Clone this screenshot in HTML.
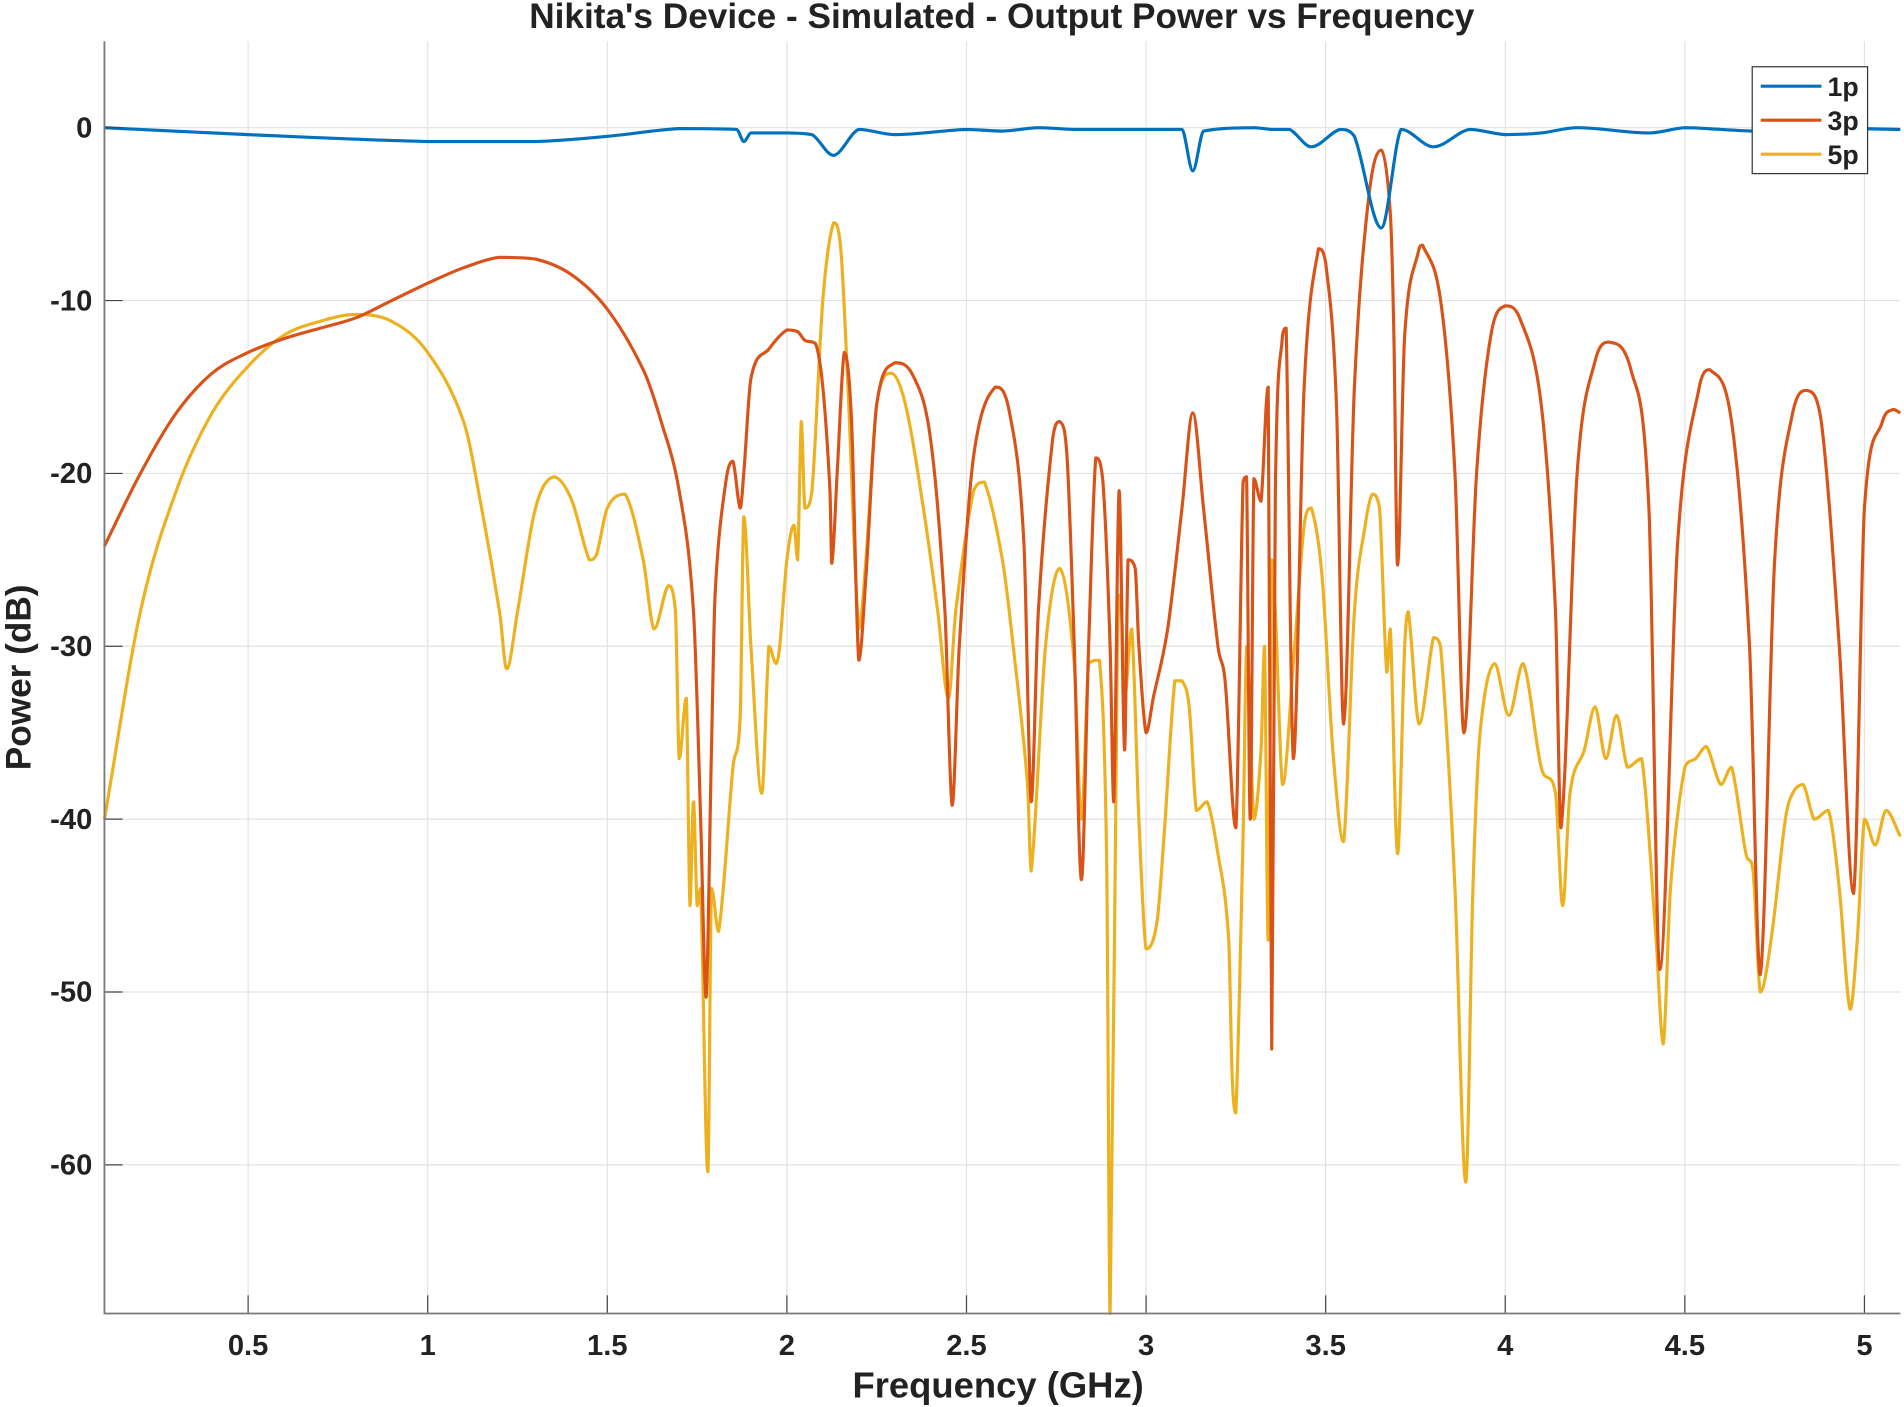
<!DOCTYPE html>
<html><head><meta charset="utf-8"><style>
html,body{margin:0;padding:0;background:#fff;}
svg{display:block;font-family:"Liberation Sans",Arial,sans-serif;}
</style></head><body>
<svg id="chart" width="1904" height="1407" viewBox="0 0 1568 1159" preserveAspectRatio="none" xmlns="http://www.w3.org/2000/svg">
<g id="grid"></g>
<g id="series"></g>
<g id="axes"></g>
<text x="825" y="23" text-anchor="middle" font-size="29" font-weight="bold" fill="#222">Nikita's Device - Simulated - Output Power vs Frequency</text>
<text x="822" y="1151" text-anchor="middle" font-size="30" font-weight="bold" fill="#222">Frequency (GHz)</text>
<text transform="translate(25,558) rotate(-90)" text-anchor="middle" font-size="29" font-weight="bold" fill="#222">Power (dB)</text>
<g id="legend"></g>
</svg>
<script>
const xTicks=[0.5,1,1.5,2,2.5,3,3.5,4,4.5,5];
const xTickLabels=["0.5","1","1.5","2","2.5","3","3.5","4","4.5","5"];
const yTicks=[0,-10,-20,-30,-40,-50,-60];
const yTickLabels=["0","-10","-20","-30","-40","-50","-60"];
const seriesNames=["1p","3p","5p"];
const f1=[0.1,0.5,1.0,1.3,1.5,1.7,1.86,1.88,1.9,2.0,2.07,2.13,2.2,2.3,2.5,2.6,2.7,2.8,2.9,3.1,3.13,3.16,3.3,3.35,3.4,3.46,3.54,3.58,3.655,3.71,3.8,3.9,4.0,4.1,4.2,4.4,4.5,4.6,4.7,4.8,5.1];
const p1=[0,-0.4,-0.8,-0.8,-0.5,-0.05,-0.1,-0.8,-0.3,-0.3,-0.4,-1.6,-0.1,-0.4,-0.1,-0.2,0,-0.1,-0.1,-0.1,-2.5,-0.2,0,-0.1,-0.1,-1.1,-0.1,-0.5,-5.8,-0.1,-1.1,-0.1,-0.4,-0.3,0,-0.3,0,-0.1,-0.2,0,-0.1];
const f3=[0.1,0.2,0.3,0.4,0.5,0.6,0.7,0.8,0.9,1.0,1.1,1.2,1.3,1.4,1.5,1.6,1.65,1.7,1.74,1.76,1.775,1.79,1.8,1.83,1.85,1.87,1.88,1.9,1.95,2.0,2.03,2.05,2.08,2.1,2.12,2.125,2.14,2.16,2.18,2.2,2.22,2.25,2.3,2.35,2.4,2.44,2.46,2.48,2.52,2.58,2.62,2.66,2.68,2.7,2.74,2.76,2.78,2.8,2.82,2.84,2.86,2.88,2.9,2.91,2.925,2.94,2.95,2.97,2.98,3.0,3.02,3.06,3.1,3.13,3.16,3.2,3.22,3.25,3.27,3.28,3.29,3.3,3.32,3.34,3.35,3.36,3.38,3.39,3.41,3.44,3.48,3.5,3.53,3.55,3.58,3.62,3.655,3.68,3.69,3.7,3.72,3.76,3.77,3.82,3.86,3.885,3.92,3.96,4.0,4.04,4.1,4.14,4.155,4.2,4.25,4.29,4.35,4.4,4.43,4.48,4.54,4.57,4.63,4.68,4.71,4.75,4.8,4.84,4.88,4.93,4.97,5.0,5.05,5.08,5.1];
const p3=[-24.2,-20,-16.5,-14.2,-13,-12.2,-11.6,-11,-10,-9,-8.1,-7.5,-7.6,-8.5,-10.5,-14,-17,-21,-28,-40,-50.3,-36,-27,-20.5,-19.3,-22,-20,-14.5,-12.8,-11.7,-11.8,-12.3,-12.5,-15,-21,-25.2,-20,-13,-17,-30.8,-26,-16,-13.6,-14.3,-18,-28,-39.2,-30,-19,-15,-16.5,-24,-39,-28,-18,-17,-19,-30,-43.5,-30,-19.1,-20.5,-30,-39,-21,-36,-25,-25.5,-30,-35,-33,-29,-22,-16.5,-22,-30,-32,-40.5,-20.5,-20.2,-40,-20.3,-21.6,-15,-53.3,-21,-12,-11.6,-36.5,-15,-7,-7.8,-16,-34.5,-15,-4,-1.3,-5,-12,-25.3,-12,-7,-6.8,-10,-20,-35,-20,-12,-10.3,-11,-16,-28,-40.5,-20,-13.5,-12.4,-14,-22,-48.7,-24,-15,-14,-17,-30,-49,-25,-16.5,-15.2,-17,-30,-44.3,-22,-17,-16.3,-16.5];
const f5=[0.1,0.2,0.3,0.4,0.5,0.6,0.7,0.8,0.9,1.0,1.1,1.15,1.2,1.22,1.25,1.3,1.35,1.4,1.45,1.47,1.5,1.55,1.6,1.63,1.67,1.69,1.7,1.72,1.73,1.74,1.75,1.76,1.78,1.79,1.81,1.85,1.87,1.88,1.9,1.93,1.95,1.97,1.98,2.0,2.02,2.03,2.04,2.05,2.07,2.1,2.13,2.15,2.17,2.2,2.22,2.25,2.29,2.33,2.38,2.42,2.45,2.47,2.52,2.55,2.6,2.63,2.67,2.68,2.72,2.76,2.8,2.82,2.84,2.87,2.89,2.9,2.92,2.93,2.94,2.96,2.98,3.0,3.03,3.05,3.08,3.1,3.12,3.14,3.17,3.2,3.23,3.24,3.25,3.27,3.28,3.3,3.32,3.33,3.34,3.35,3.36,3.38,3.41,3.44,3.46,3.49,3.52,3.55,3.58,3.61,3.63,3.65,3.67,3.68,3.7,3.72,3.73,3.76,3.8,3.82,3.86,3.89,3.91,3.93,3.97,4.01,4.05,4.1,4.14,4.16,4.18,4.22,4.25,4.28,4.31,4.34,4.38,4.42,4.44,4.46,4.5,4.53,4.56,4.6,4.63,4.67,4.69,4.71,4.74,4.78,4.8,4.83,4.86,4.9,4.93,4.96,4.98,5.0,5.03,5.06,5.1];
const p5=[-40,-28,-21,-16.5,-13.8,-12,-11.2,-10.8,-11.2,-13,-17,-22,-28,-31.3,-28,-22,-20.2,-21.5,-25,-24.7,-22,-21.2,-25,-29,-26.5,-28,-36.5,-33,-45,-39,-45,-44,-60.4,-44,-46.5,-37,-34,-22.5,-30,-38.5,-30,-31,-30,-25,-23,-25,-17,-22,-21,-10,-5.5,-7,-15,-29,-25,-16,-14.2,-16,-22,-28,-33,-28,-21,-20.5,-25,-30,-38,-43,-30,-25.5,-31,-40,-31,-30.8,-42,-68.6,-30,-27,-33,-29,-40,-47.5,-46,-41,-32,-32,-33.5,-39.5,-39,-42,-47,-55,-57,-41,-30,-40,-36,-30,-47,-25,-28,-38,-31,-23,-22,-26,-36,-41.3,-28,-23,-21.2,-22,-31.5,-29,-42,-30,-28,-34.5,-29.5,-30,-44,-61,-44,-35,-31,-34,-31,-37,-38.5,-45,-38.5,-36,-33.5,-36.5,-34,-37,-36.5,-47,-53,-44,-37,-36.5,-35.8,-38,-37,-42,-43,-50,-47,-40,-38.5,-38,-40,-39.5,-44,-51,-47,-40,-41.5,-39.5,-41];

const X0=86,X1=1565,Y0=34,Y1=1082,xmin=0.1,xmax=5.1,ymin=-68.6,ymax=5;
const sx=v=>X0+(v-xmin)/(xmax-xmin)*(X1-X0);
const sy=v=>Y0+(ymax-v)/(ymax-ymin)*(Y1-Y0);
const NS="http://www.w3.org/2000/svg";
function mk(tag,parent){const e=document.createElementNS(NS,tag);document.getElementById(parent).appendChild(e);return e;}
function smoothPath(pts){
 let d=`M${pts[0][0].toFixed(1)},${pts[0][1].toFixed(1)}`;
 const t=0.35;
 for(let i=0;i<pts.length-1;i++){
  const p0=pts[Math.max(i-1,0)],p1=pts[i],p2=pts[i+1],p3=pts[Math.min(i+2,pts.length-1)];
  const dx=p2[0]-p1[0];
  let m1=(p2[1]-p0[1])/Math.max(p2[0]-p0[0],0.01), m2=(p3[1]-p1[1])/Math.max(p3[0]-p1[0],0.01);
  const s=(p2[1]-p1[1])/Math.max(dx,0.01);
  if(m1*s<=0) m1=0; if(m2*s<=0) m2=0;
  if(Math.abs(m1)>3*Math.abs(s)) m1=3*s; if(Math.abs(m2)>3*Math.abs(s)) m2=3*s;
  const c1=[p1[0]+dx/3,p1[1]+m1*dx/3],c2=[p2[0]-dx/3,p2[1]-m2*dx/3];
  d+=`C${c1[0].toFixed(1)},${c1[1].toFixed(1)} ${c2[0].toFixed(1)},${c2[1].toFixed(1)} ${p2[0].toFixed(1)},${p2[1].toFixed(1)}`;
 }
 return d;
}
xTicks.forEach((t,i)=>{
 const g=mk('line','grid');
 
 
 g.setAttribute('x1',sx(t));g.setAttribute('x2',sx(t));g.setAttribute('y1',Y0);g.setAttribute('y2',Y1);g.setAttribute('stroke','#e3e3e3');g.setAttribute('stroke-width','1');
 const tk=mk('line','axes');
 
 
 tk.setAttribute('x1',sx(t));tk.setAttribute('x2',sx(t));tk.setAttribute('y1',Y1);tk.setAttribute('y2',Y1-15);tk.setAttribute('stroke','#444');
 const l=mk('text','axes');
 
 
 l.setAttribute('x',sx(t));l.setAttribute('y',Y1+34);l.setAttribute('text-anchor','middle');l.setAttribute('font-size','24');l.setAttribute('font-weight','bold');l.setAttribute('fill','#222');
 l.textContent=xTickLabels[i];
});
yTicks.forEach((t,i)=>{
 const g=mk('line','grid');
 
 
 g.setAttribute('x1',X0);g.setAttribute('x2',X1);g.setAttribute('y1',sy(t));g.setAttribute('y2',sy(t));g.setAttribute('stroke','#e3e3e3');g.setAttribute('stroke-width','1');
 const tk=mk('line','axes');
 
 
 tk.setAttribute('x1',X0);tk.setAttribute('x2',X0+15);tk.setAttribute('y1',sy(t));tk.setAttribute('y2',sy(t));tk.setAttribute('stroke','#444');
 const l=mk('text','axes');
 
 
 l.setAttribute('x',X0-10);l.setAttribute('y',sy(t)+8);l.setAttribute('text-anchor','end');l.setAttribute('font-size','24');l.setAttribute('font-weight','bold');l.setAttribute('fill','#222');
 l.textContent=yTickLabels[i];
});
const ax=mk('path','axes');


ax.setAttribute('d',`M${X0},${Y0}V${Y1}H${X1}`);ax.setAttribute('fill','none');ax.setAttribute('stroke','#7a7a7a');ax.setAttribute('stroke-width','1.5');
const colors=['#0072BD','#D95319','#EDB120'];
const data=[[f1,p1],[f3,p3],[f5,p5]];
[2,1,0].forEach(k=>{
 const [fx,py]=data[k];
 const pl=mk('path','series');
 
 
 pl.setAttribute('d',smoothPath(fx.map((f,i)=>[sx(f),sy(Math.max(py[i],ymin))])));
 pl.setAttribute('fill','none');pl.setAttribute('stroke',colors[k]);pl.setAttribute('stroke-width','2.6');pl.setAttribute('stroke-linejoin','round');
});
const lb=mk('rect','legend');


lb.setAttribute('x',1443);lb.setAttribute('y',55);lb.setAttribute('width',95);lb.setAttribute('height',88);lb.setAttribute('fill','#fff');lb.setAttribute('stroke','#333');lb.setAttribute('stroke-width','1');
seriesNames.forEach((n,k)=>{
 const y=71+k*28;
 const ln=mk('line','legend');
 
 
 ln.setAttribute('x1',1450);ln.setAttribute('x2',1500);ln.setAttribute('y1',y);ln.setAttribute('y2',y);ln.setAttribute('stroke',colors[k]);ln.setAttribute('stroke-width','2.6');
 const t=mk('text','legend');
 
 
 t.setAttribute('x',1505);t.setAttribute('y',y+8);t.setAttribute('font-size','22');t.setAttribute('font-weight','bold');t.setAttribute('fill','#222');
 t.textContent=n;
});
</script>
</body></html>
